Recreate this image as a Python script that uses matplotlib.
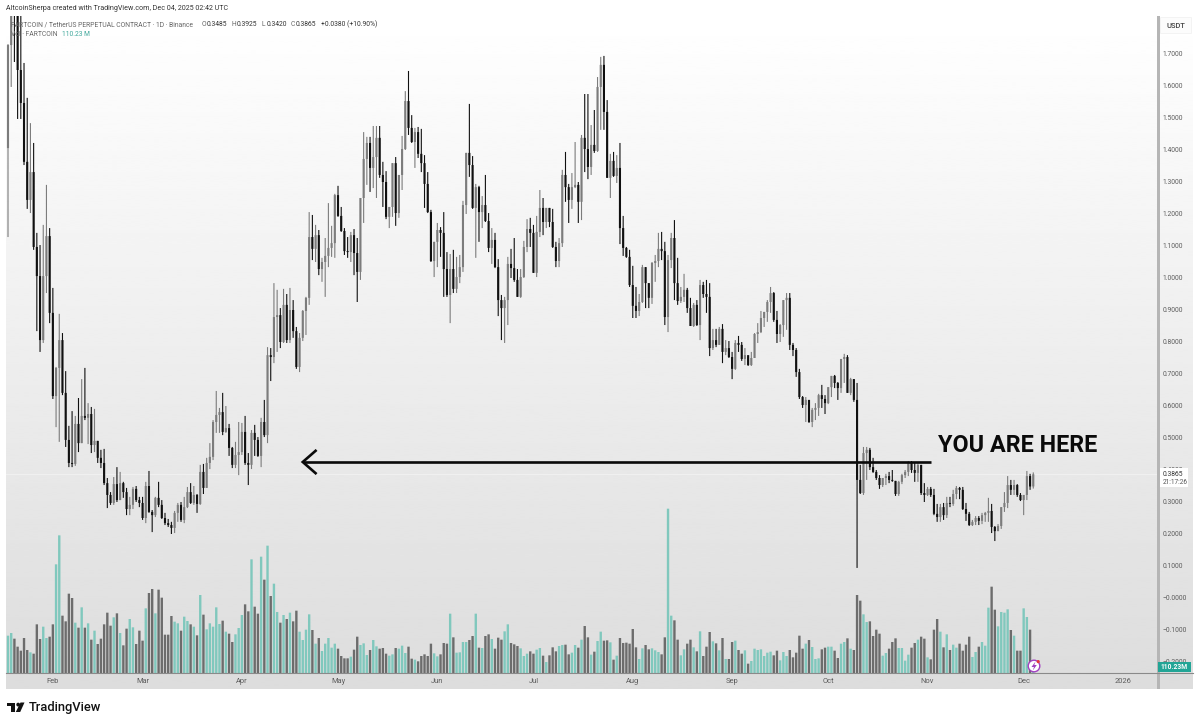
"""FARTCOIN/USDT daily candles with volume, TradingView style, "YOU ARE HERE" note."""
import numpy as np
import pandas as pd
import matplotlib
matplotlib.use("Agg")
import matplotlib.dates as mdates
import matplotlib.pyplot as plt
from matplotlib.patches import Circle, Polygon, Rectangle

plt.rcParams["font.family"] = ["Roboto", "DejaVu Sans"]

UP, DOWN = "#7c7c7c", "#101010"
VOL_UP, VOL_DOWN = "#80c8bd", "#6c6c6c"
TEXT = "#5c5c5c"

FIRST_OPEN = 1.406
closes = [
    1.728, 1.853, 1.838, 1.650, 1.547, 1.363, 1.244, 1.331, 1.097, 1.006,
    0.806, 1.006, 1.131, 0.891, 0.631, 0.719, 0.806, 0.641, 0.494, 0.422,
    0.419, 0.544, 0.484, 0.569, 0.563, 0.575, 0.478, 0.491, 0.438, 0.422,
    0.359, 0.322, 0.297, 0.356, 0.306, 0.359, 0.331, 0.278, 0.291, 0.341,
    0.306, 0.297, 0.250, 0.350, 0.269, 0.259, 0.313, 0.291, 0.250, 0.234,
    0.228, 0.219, 0.266, 0.291, 0.244, 0.284, 0.331, 0.297, 0.322, 0.294,
    0.394, 0.344, 0.422, 0.441, 0.550, 0.572, 0.581, 0.519, 0.531, 0.469,
    0.416, 0.447, 0.456, 0.519, 0.422, 0.416, 0.516, 0.494, 0.444, 0.550,
    0.509, 0.759, 0.753, 0.878, 0.884, 0.800, 0.916, 0.806, 0.900, 0.834,
    0.722, 0.813, 0.897, 0.938, 1.128, 1.091, 1.134, 1.028, 1.050, 1.069,
    1.094, 1.109, 1.259, 1.194, 1.147, 1.084, 1.081, 1.134, 1.078, 1.019,
    1.250, 1.372, 1.422, 1.344, 1.378, 1.438, 1.322, 1.300, 1.191, 1.222,
    1.359, 1.203, 1.322, 1.403, 1.553, 1.469, 1.425, 1.456, 1.388, 1.359,
    1.294, 1.206, 1.053, 1.113, 1.150, 1.141, 1.028, 0.947, 1.028, 0.966,
    1.003, 1.034, 1.228, 1.391, 1.353, 1.219, 1.284, 1.206, 1.228, 1.178,
    1.094, 1.119, 1.034, 0.931, 0.906, 0.931, 1.044, 1.031, 0.994, 0.941,
    1.003, 1.097, 1.153, 1.141, 1.016, 1.144, 1.219, 1.175, 1.219, 1.175,
    1.097, 1.053, 1.109, 1.322, 1.284, 1.244, 1.284, 1.291, 1.238, 1.438,
    1.403, 1.347, 1.416, 1.397, 1.597, 1.666, 1.519, 1.313, 1.366, 1.319,
    1.344, 1.156, 1.094, 1.066, 0.978, 0.913, 0.897, 0.925, 1.034, 0.984,
    0.938, 1.047, 1.053, 1.091, 1.084, 0.878, 1.056, 1.125, 0.984, 0.928,
    0.941, 0.963, 0.906, 0.850, 0.916, 0.853, 0.978, 0.950, 0.941, 0.781,
    0.806, 0.791, 0.841, 0.769, 0.781, 0.753, 0.716, 0.797, 0.791, 0.747,
    0.759, 0.728, 0.750, 0.825, 0.831, 0.875, 0.894, 0.925, 0.953, 0.869,
    0.825, 0.853, 0.931, 0.938, 0.791, 0.775, 0.706, 0.628, 0.603, 0.619,
    0.550, 0.588, 0.594, 0.634, 0.622, 0.609, 0.659, 0.694, 0.672, 0.656,
    0.747, 0.753, 0.641, 0.684, 0.619, 0.369, 0.328, 0.453, 0.463, 0.409,
    0.394, 0.375, 0.353, 0.375, 0.381, 0.369, 0.366, 0.325, 0.363, 0.384,
    0.394, 0.422, 0.400, 0.391, 0.416, 0.328, 0.322, 0.341, 0.322, 0.263,
    0.253, 0.284, 0.259, 0.297, 0.294, 0.325, 0.344, 0.338, 0.278, 0.263,
    0.228, 0.238, 0.250, 0.241, 0.259, 0.266, 0.272, 0.222, 0.209, 0.225,
    0.284, 0.297, 0.353, 0.338, 0.353, 0.322, 0.306, 0.322, 0.381, 0.3485,
    0.3865,
]
highs = [
    1.731, 1.900, 1.931, 1.900, 1.900, 1.672, 1.563, 1.484, 1.422, 1.141,
    1.103, 1.166, 1.291, 1.156, 0.969, 0.722, 0.888, 0.828, 0.709, 0.538,
    0.584, 0.569, 0.625, 0.684, 0.719, 0.609, 0.597, 0.591, 0.491, 0.463,
    0.466, 0.375, 0.331, 0.378, 0.409, 0.394, 0.363, 0.344, 0.316, 0.347,
    0.350, 0.316, 0.316, 0.363, 0.397, 0.275, 0.316, 0.363, 0.306, 0.266,
    0.247, 0.238, 0.272, 0.297, 0.300, 0.316, 0.347, 0.359, 0.350, 0.325,
    0.416, 0.419, 0.438, 0.484, 0.556, 0.647, 0.594, 0.641, 0.600, 0.544,
    0.472, 0.488, 0.550, 0.547, 0.569, 0.453, 0.525, 0.541, 0.503, 0.563,
    0.619, 0.784, 0.781, 0.984, 0.963, 0.906, 0.966, 0.950, 0.969, 0.931,
    0.847, 0.828, 0.900, 0.941, 1.206, 1.197, 1.166, 1.150, 1.063, 1.125,
    1.234, 1.163, 1.263, 1.288, 1.222, 1.156, 1.128, 1.144, 1.153, 1.125,
    1.250, 1.456, 1.441, 1.441, 1.475, 1.475, 1.475, 1.363, 1.334, 1.222,
    1.359, 1.378, 1.322, 1.444, 1.584, 1.647, 1.509, 1.469, 1.472, 1.466,
    1.384, 1.331, 1.213, 1.113, 1.172, 1.159, 1.206, 1.081, 1.075, 1.088,
    1.066, 1.072, 1.241, 1.391, 1.544, 1.381, 1.294, 1.288, 1.256, 1.322,
    1.203, 1.156, 1.141, 1.059, 0.947, 0.941, 1.066, 1.091, 1.125, 1.028,
    1.028, 1.116, 1.184, 1.188, 1.166, 1.194, 1.275, 1.250, 1.219, 1.219,
    1.216, 1.113, 1.125, 1.338, 1.394, 1.294, 1.328, 1.425, 1.300, 1.447,
    1.575, 1.575, 1.478, 1.525, 1.628, 1.691, 1.694, 1.556, 1.388, 1.394,
    1.384, 1.422, 1.194, 1.097, 1.088, 1.038, 0.972, 0.950, 1.041, 1.034,
    0.984, 1.050, 1.072, 1.141, 1.144, 1.113, 1.072, 1.141, 1.181, 1.063,
    0.972, 1.013, 0.969, 0.938, 0.922, 0.931, 0.994, 0.988, 0.994, 0.984,
    0.841, 0.841, 0.847, 0.856, 0.806, 0.803, 0.769, 0.806, 0.819, 0.800,
    0.781, 0.753, 0.769, 0.828, 0.859, 0.897, 0.894, 0.931, 0.972, 0.956,
    0.897, 0.856, 0.931, 0.953, 0.953, 0.797, 0.781, 0.716, 0.631, 0.628,
    0.619, 0.594, 0.609, 0.638, 0.666, 0.634, 0.659, 0.694, 0.697, 0.675,
    0.747, 0.763, 0.759, 0.688, 0.684, 0.672, 0.416, 0.472, 0.472, 0.469,
    0.438, 0.400, 0.384, 0.375, 0.388, 0.394, 0.400, 0.366, 0.366, 0.388,
    0.400, 0.428, 0.428, 0.422, 0.425, 0.416, 0.359, 0.347, 0.347, 0.341,
    0.294, 0.294, 0.297, 0.316, 0.316, 0.338, 0.350, 0.347, 0.347, 0.297,
    0.269, 0.244, 0.256, 0.256, 0.266, 0.269, 0.313, 0.294, 0.225, 0.231,
    0.284, 0.331, 0.381, 0.369, 0.369, 0.356, 0.328, 0.322, 0.397, 0.388,
    0.3925,
]
lows = [
    1.128, 1.597, 1.675, 1.497, 1.497, 1.353, 1.216, 1.203, 1.088, 0.834,
    0.769, 0.797, 0.953, 0.859, 0.622, 0.534, 0.488, 0.634, 0.472, 0.409,
    0.409, 0.413, 0.456, 0.484, 0.556, 0.481, 0.453, 0.456, 0.422, 0.406,
    0.353, 0.281, 0.291, 0.291, 0.300, 0.306, 0.313, 0.259, 0.259, 0.278,
    0.300, 0.284, 0.244, 0.234, 0.266, 0.206, 0.253, 0.284, 0.247, 0.228,
    0.222, 0.200, 0.203, 0.238, 0.238, 0.234, 0.281, 0.294, 0.291, 0.266,
    0.291, 0.325, 0.344, 0.403, 0.431, 0.516, 0.516, 0.509, 0.516, 0.444,
    0.406, 0.406, 0.384, 0.447, 0.416, 0.353, 0.403, 0.444, 0.441, 0.409,
    0.503, 0.484, 0.678, 0.734, 0.769, 0.781, 0.797, 0.797, 0.797, 0.813,
    0.716, 0.706, 0.803, 0.822, 0.916, 1.056, 1.050, 1.009, 0.988, 0.941,
    1.034, 1.066, 1.063, 1.191, 1.144, 1.072, 1.063, 1.050, 1.009, 0.925,
    0.994, 1.172, 1.291, 1.269, 1.281, 1.250, 1.313, 1.222, 1.184, 1.156,
    1.191, 1.163, 1.188, 1.275, 1.400, 1.447, 1.422, 1.344, 1.375, 1.331,
    1.219, 1.203, 1.050, 1.003, 1.034, 1.066, 0.941, 0.941, 0.859, 0.953,
    0.953, 0.984, 1.019, 1.200, 1.316, 1.216, 1.063, 1.113, 1.156, 1.175,
    1.081, 1.044, 1.031, 0.881, 0.806, 0.797, 0.853, 1.000, 0.988, 0.941,
    0.938, 1.000, 1.081, 1.097, 1.016, 1.003, 1.128, 1.134, 1.156, 1.159,
    1.094, 1.034, 1.034, 1.097, 1.238, 1.172, 1.216, 1.281, 1.172, 1.181,
    1.331, 1.309, 1.322, 1.391, 1.394, 1.463, 1.463, 1.313, 1.250, 1.316,
    1.297, 1.106, 1.069, 1.063, 0.972, 0.875, 0.875, 0.881, 0.922, 0.906,
    0.906, 0.919, 0.988, 1.034, 1.056, 0.853, 0.831, 1.031, 0.931, 0.916,
    0.922, 0.925, 0.891, 0.850, 0.847, 0.850, 0.806, 0.938, 0.891, 0.756,
    0.775, 0.784, 0.791, 0.734, 0.759, 0.750, 0.684, 0.713, 0.769, 0.741,
    0.728, 0.725, 0.725, 0.750, 0.797, 0.828, 0.847, 0.863, 0.891, 0.863,
    0.797, 0.800, 0.816, 0.838, 0.775, 0.756, 0.691, 0.622, 0.594, 0.550,
    0.547, 0.534, 0.556, 0.569, 0.594, 0.575, 0.606, 0.628, 0.656, 0.619,
    0.641, 0.672, 0.641, 0.634, 0.613, 0.094, 0.325, 0.322, 0.369, 0.400,
    0.391, 0.369, 0.341, 0.347, 0.353, 0.359, 0.363, 0.319, 0.319, 0.356,
    0.375, 0.381, 0.391, 0.363, 0.363, 0.322, 0.300, 0.319, 0.316, 0.259,
    0.238, 0.238, 0.244, 0.250, 0.284, 0.288, 0.309, 0.309, 0.275, 0.241,
    0.225, 0.225, 0.228, 0.228, 0.231, 0.238, 0.238, 0.203, 0.178, 0.209,
    0.216, 0.269, 0.281, 0.322, 0.322, 0.316, 0.303, 0.259, 0.306, 0.338,
    0.3420,
]
# volume in millions
volumes = [
    560, 600, 515, 395, 335, 525, 345, 310, 290, 730,
    510, 695, 525, 545, 730, 1630, 2065, 860, 775, 1190,
    1125, 755, 680, 985, 680, 745, 500, 635, 435, 515,
    730, 905, 710, 835, 895, 600, 415, 665, 810, 685,
    435, 635, 485, 970, 1200, 1260, 895, 1250, 1130, 575,
    575, 855, 770, 745, 635, 845, 780, 730, 695, 565,
    1170, 875, 655, 745, 695, 985, 735, 785, 620, 590,
    465, 580, 675, 870, 1030, 925, 1705, 995, 890, 1745,
    1400, 1910, 1155, 1340, 915, 755, 870, 810, 905, 775,
    935, 620, 495, 650, 880, 645, 440, 525, 330, 440,
    525, 380, 440, 365, 255, 220, 220, 245, 350, 545,
    420, 445, 270, 345, 495, 400, 365, 375, 290, 260,
    280, 375, 365, 410, 300, 395, 215, 200, 175, 255,
    280, 255, 440, 295, 250, 280, 450, 440, 890, 535,
    305, 310, 465, 465, 495, 555, 890, 380, 375, 555,
    580, 510, 365, 530, 500, 625, 730, 450, 430, 405,
    370, 255, 290, 325, 290, 350, 375, 260, 165, 265,
    385, 325, 405, 420, 425, 280, 305, 420, 380, 500,
    705, 535, 275, 320, 480, 620, 485, 490, 460, 200,
    260, 525, 450, 455, 440, 660, 385, 210, 370, 420,
    355, 370, 340, 315, 280, 535, 2465, 860, 790, 500,
    265, 355, 440, 500, 385, 325,
    625, 255, 395, 615, 475, 445, 340, 525, 210, 210,
    465, 485, 345, 290, 340, 140, 180, 365, 345, 355,
    255, 305, 320, 265, 335, 190, 315, 255, 345, 235,
    305, 560, 365, 440, 495, 390, 210, 220, 355, 380,
    395, 395, 335, 225, 440, 465, 520, 365, 345, 1170,
    1085, 880, 765, 775, 555, 650, 590, 260, 300, 365,
    465, 520, 375, 375, 185, 275, 380, 450, 500, 545,
    515, 235, 205, 650, 810, 620, 385, 580, 345, 425,
    380, 440, 335, 425, 545, 240, 315, 395, 465, 410,
    980, 1295, 950, 700, 915, 905, 955, 645, 560, 335,
    335, 970, 840, 650,
    110.23,
]
assert len(closes) == len(highs) == len(lows) == len(volumes) == 321

price_ticks = [-0.2, -0.1, 0.0, 0.1, 0.2, 0.3, 0.4, 0.5, 0.6, 0.7, 0.8, 0.9,
               1.0, 1.1, 1.2, 1.3, 1.4, 1.5, 1.6, 1.7]
price_labels = ["\u22120.2000", "\u22120.1000", "\u22120.0000", "0.1000", "0.2000",
                "0.3000", "0.4000", "0.5000", "0.6000", "0.7000", "0.8000", "0.9000",
                "1.0000", "1.1000", "1.2000", "1.3000", "1.4000", "1.5000", "1.6000", "1.7000"]
month_ticks = ["2025-02-01", "2025-03-01", "2025-04-01", "2025-05-01", "2025-06-01", "2025-07-01",
               "2025-08-01", "2025-09-01", "2025-10-01", "2025-11-01", "2025-12-01", "2026-01-01"]
month_labels = ["Feb", "Mar", "Apr", "May", "Jun", "Jul", "Aug", "Sep", "Oct", "Nov", "Dec", "2026"]

dates = pd.date_range("2025-01-18", periods=len(closes), freq="D")
x = mdates.date2num(dates)
closes = np.array(closes)
highs = np.array(highs)
lows = np.array(lows)
opens = np.r_[FIRST_OPEN, closes[:-1]]
up = closes >= opens

W, H = 1200, 725
L, R, T, B = 6, 1158, 16, 673   # plot area in pixels
PX_PER_DAY = 3.204
fig = plt.figure(figsize=(W / 100, H / 100), dpi=100, facecolor="white")

# grey gradient behind everything, time axis strip included
bg = fig.add_axes([L / W, 1 - 689 / H, (1193 - L) / W, (689 - T) / H], zorder=0)
bg.imshow(np.linspace(1.0, 0.865, 256)[:, None], cmap="gray", vmin=0, vmax=1,
          aspect="auto", interpolation="bilinear")
bg.axis("off")

rect = [L / W, 1 - B / H, (R - L) / W, (B - T) / H]
vol = fig.add_axes(rect, zorder=1, facecolor="none")
ax = fig.add_axes(rect, zorder=2, facecolor="none")

xlim = (x[0] - (8 - L) / PX_PER_DAY, x[0] + (R - 8) / PX_PER_DAY)
for a in (ax, vol):
    a.set_xlim(xlim)
    for sp in a.spines.values():
        sp.set_visible(False)

vol.bar(x, volumes, width=0.74, color=[VOL_UP if u else VOL_DOWN for u in up], linewidth=0, snap=False)
vol.set_ylim(0, (B - T) * 15)
vol.set_yticks([])
vol.set_xticks([])

ax.set_ylim((598 - B) / 320, (598 - T) / 320)
ax.axhline(closes[-1], color="white", lw=0.7, alpha=0.4, zorder=1)
colors = np.where(up, UP, DOWN)
ax.vlines(x, lows, highs, colors=colors, lw=0.8, zorder=2, snap=False)
ax.bar(x, np.abs(closes - opens), bottom=np.minimum(opens, closes), width=0.66,
       color=colors, linewidth=0, zorder=3, snap=False)

ax.yaxis.tick_right()
ax.set_yticks(price_ticks)
ax.set_yticklabels(price_labels, fontsize=4.9, color=TEXT)
ax.set_xticks(mdates.date2num(pd.to_datetime(month_ticks)))
ax.set_xticklabels(month_labels, fontsize=5.4, color=TEXT)
ax.tick_params(axis="y", length=0, pad=3.4)
ax.tick_params(axis="x", length=0, pad=3.4)

# note: the arrow and its caption, in date / price terms
ARROW_Y = 0.425
ax.plot([x[92], x[288]], [ARROW_Y, ARROW_Y], color="#0a0a0a", lw=1.9, zorder=5, solid_capstyle="butt")
ax.plot([x[96], x[92], x[96]], [ARROW_Y + 0.035, ARROW_Y, ARROW_Y - 0.035], color="#0a0a0a", lw=1.9,
        zorder=5, solid_joinstyle="miter")
ax.text(x[290] + 0.3, 0.477, "YOU ARE HERE", fontsize=16.8, fontweight="bold",
        color="#0a0a0a", ha="left", va="center", zorder=6)

# everything else sits on an overlay in plain pixels
ov = fig.add_axes([0, 0, 1, 1], zorder=3, facecolor="none")
ov.set_xlim(0, W)
ov.set_ylim(H, 0)
ov.axis("off")

ov.add_patch(Rectangle((0, 0), W, T, color="white", lw=0))
ov.add_patch(Rectangle((R - 1, T), 3, 689 - T, color="#b5b5b5", lw=0))
ov.plot([L, 1193], [B, B], color="#8a8a8a", lw=0.8)

ov.text(6, 8, "AltcoinSherpa created with TradingView.com, Dec 04, 2025 02:42 UTC", fontsize=5.1,
        color="#333333", va="center")
ov.text(11, 24.5, "FARTCOIN / TetherUS PERPETUAL CONTRACT \u00b7 1D \u00b7 Binance", fontsize=4.9,
        color="#666666", va="center")
for px, key, val in [(202, "O", "0.3485"), (232, "H", "0.3925"), (262, "L", "0.3420"), (291, "C", "0.3865")]:
    ov.text(px, 24.5, key, fontsize=4.9, color="#666666", va="center")
    ov.text(px + 4.8, 24.5, val, fontsize=4.9, color="#333333", va="center")
ov.text(321, 24.5, "+0.0380 (+10.90%)", fontsize=4.9, color="#333333", va="center")
ov.text(11, 34.5, "Vol \u00b7 FARTCOIN", fontsize=4.9, color="#666666", va="center")
ov.text(62, 34.5, "110.23 M", fontsize=4.9, color="#3fa79b", va="center")

ov.add_patch(Rectangle((1160, 17), 31, 16, facecolor="#fcfcfc", edgecolor="#f0f0f0", lw=0.5))
ov.text(1175.5, 26, "USDT", fontsize=5.4, color="#444444", ha="center", va="center", fontweight="medium")

ov.add_patch(Rectangle((1159.5, 468), 28, 19, color="white", lw=0))
ov.text(1163, 474, "0.3865", fontsize=4.9, color="#333333", va="center")
ov.text(1163, 482, "21:17:26", fontsize=4.7, color="#555555", va="center")

ov.add_patch(Rectangle((1158, 662), 33, 9.5, color="#22a596", lw=0))
ov.text(1174.5, 666.8, "110.23M", fontsize=4.9, color="white", ha="center", va="center", fontweight="bold")

# lightning badge over the last volume bar
ov.add_patch(Circle((1034, 666), 5.8, facecolor="white", edgecolor="#a23fc0", lw=1.0))
ov.add_patch(Polygon([(1035.5, 661.5), (1031.5, 667), (1034, 667), (1032.8, 670.5), (1036.8, 665),
                      (1034.3, 665)], color="#a23fc0", lw=0))
ov.add_patch(Circle((1038.2, 661.6), 1.6, color="#e5363b", lw=0))

# TradingView footer mark
ov.add_patch(Polygon([(7, 702.5), (15.3, 702.5), (15.3, 712), (11, 712), (11, 706), (7, 706)],
                     color="#131313", lw=0))
ov.add_patch(Circle((18.2, 704.6), 1.9, color="#131313", lw=0))
ov.add_patch(Polygon([(20.5, 702.5), (24.5, 702.5), (20.2, 712), (15.8, 712)], color="#131313", lw=0))
ov.text(29, 707.5, "TradingView", fontsize=9.3, color="#131313", va="center", fontweight="medium")

fig.savefig("out.png", dpi=100)
